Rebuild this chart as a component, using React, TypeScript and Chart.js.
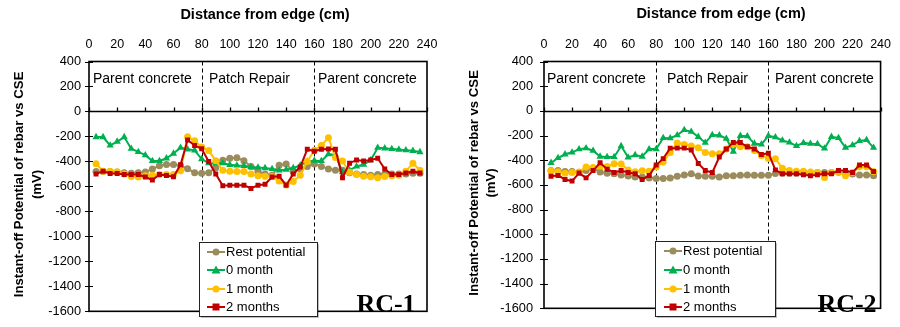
import React, { useEffect, useRef } from 'react';
import { Chart, registerables } from 'chart.js';
Chart.register(...registerables);

// ---------------- DATA ----------------
const distances = [5, 10, 15, 20, 25, 30, 35, 40, 45, 50, 55, 60, 65, 70, 75, 80, 85, 90, 95, 100, 105, 110, 115, 120, 125, 130, 135, 140, 145, 150, 155, 160, 165, 170, 175, 180, 185, 190, 195, 200, 205, 210, 215, 220, 225, 230, 235];

const restRC1 = [-480, -480, -480, -485, -490, -495, -490, -485, -460, -435, -425, -425, -435, -458, -490, -495, -490, -450, -390, -375, -370, -395, -440, -480, -500, -510, -430, -420, -480, -460, -440, -420, -440, -460, -470, -470, -490, -500, -505, -510, -505, -500, -500, -500, -500, -495, -495];
const zeroRC1 = [-205, -205, -272, -241, -205, -298, -324, -350, -396, -396, -375, -337, -290, -303, -311, -381, -414, -415, -414, -427, -432, -435, -445, -448, -453, -460, -471, -466, -453, -432, -401, -394, -396, -342, -350, -485, -470, -440, -425, -390, -290, -295, -300, -305, -310, -315, -325];
const oneRC1 = [-419, -478, -480, -485, -500, -520, -525, -515, -510, -505, -505, -505, -475, -202, -235, -284, -313, -395, -470, -478, -480, -480, -500, -515, -518, -520, -557, -588, -560, -510, -401, -311, -272, -210, -368, -396, -487, -505, -518, -523, -531, -520, -515, -510, -479, -414, -471];
const twoRC1 = [-500, -479, -497, -497, -505, -505, -505, -525, -549, -505, -513, -523, -427, -228, -272, -298, -401, -500, -595, -590, -590, -590, -616, -590, -583, -525, -518, -590, -500, -445, -303, -318, -303, -300, -303, -531, -414, -388, -396, -388, -375, -461, -505, -505, -492, -479, -492];

const restRC2 = [-484, -484, -491, -491, -499, -484, -465, -495, -505, -510, -520, -528, -536, -535, -543, -549, -549, -545, -530, -520, -510, -528, -530, -530, -535, -525, -525, -522, -520, -522, -522, -522, -508, -505, -505, -505, -505, -505, -500, -500, -500, -498, -505, -512, -520, -520, -525];
const zeroRC2 = [-421, -382, -352, -336, -310, -303, -323, -370, -374, -374, -285, -377, -358, -370, -310, -310, -220, -222, -197, -155, -168, -210, -258, -195, -198, -225, -330, -202, -205, -265, -272, -202, -214, -240, -255, -284, -259, -266, -268, -305, -210, -220, -298, -278, -243, -236, -298];
const oneRC2 = [-485, -493, -506, -500, -495, -454, -459, -449, -450, -428, -430, -480, -493, -485, -490, -454, -415, -337, -260, -273, -285, -298, -337, -348, -348, -309, -270, -290, -290, -322, -361, -387, -389, -465, -484, -490, -490, -495, -499, -540, -500, -495, -525, -500, -452, -452, -491];
const twoRC2 = [-530, -523, -556, -569, -504, -543, -484, -421, -473, -499, -484, -499, -510, -556, -523, -439, -387, -302, -302, -302, -317, -426, -484, -499, -374, -309, -257, -257, -291, -309, -354, -343, -478, -510, -510, -510, -517, -525, -517, -510, -510, -484, -484, -499, -439, -439, -491];

const seriesNames = ['Rest potential', '0 month', '1 month', '2 months'];
const seriesColors = ['#9A8C5C', '#00B050', '#FFC000', '#C00000'];
const seriesMarkers = ['circle', 'triangle', 'circle', 'rect'];

const xTickValues = [0, 20, 40, 60, 80, 100, 120, 140, 160, 180, 200, 220, 240];
const yTickValues = [400, 200, 0, -200, -400, -600, -800, -1000, -1200, -1400, -1600];
const regionLabels = ['Parent concrete', 'Patch Repair', 'Parent concrete'];
const regionBoundaries = [80, 160];
const xTitle = 'Distance from edge (cm)';
const yTitleLines = ['Instant-off Potential of rebar vs CSE', '(mV)'];

// ---------------- LAYOUT ----------------
type Layout = {
  caLeft: number; caRight: number; caTop: number; caBottom: number;
  regionX: number[]; regionY: number;
  legend: { x: number; y: number; w: number; h: number; sx0: number; sx1: number; tx: number; rows: number[] };
  rcX: number; rcY: number;
  xTitleX: number; xTitleY: number;
  yTitleX: number[]; yTickPad: number;
};

const W = 450, H = 327;

function drawMarker(ctx: CanvasRenderingContext2D, style: string, x: number, y: number, color: string) {
  ctx.fillStyle = color;
  ctx.beginPath();
  if (style === 'circle') {
    ctx.arc(x, y, 3.5, 0, Math.PI * 2);
  } else if (style === 'triangle') {
    ctx.moveTo(x, y - 4.5);
    ctx.lineTo(x + 4.5, y + 3.5);
    ctx.lineTo(x - 4.5, y + 3.5);
    ctx.closePath();
  } else {
    ctx.rect(x - 3.5, y - 3.5, 7, 7);
  }
  ctx.fill();
}

function Panel({ series, label, layout }: { series: number[][]; label: string; layout: Layout }) {
  const ref = useRef<HTMLCanvasElement | null>(null);
  useEffect(() => {
    const canvas = ref.current!;
    const L = layout;
    const overlay = {
      id: 'overlay',
      beforeDatasetsDraw(chart: any) {
        const { ctx, chartArea: ca, scales } = chart;
        const x = scales.x, y = scales.y;
        ctx.save();
        ctx.strokeStyle = '#000';
        ctx.lineWidth = 1;
        ctx.setLineDash([4, 3]);
        regionBoundaries.forEach((b) => {
          const px = Math.round(x.getPixelForValue(b)) + 0.5;
          ctx.beginPath();
          ctx.moveTo(px, ca.top);
          ctx.lineTo(px, ca.bottom);
          ctx.stroke();
        });
        ctx.setLineDash([]);
        const y0 = Math.round(y.getPixelForValue(0)) + 0.5;
        ctx.lineWidth = 1.3;
        ctx.beginPath();
        ctx.moveTo(ca.left, y0);
        ctx.lineTo(ca.right, y0);
        xTickValues.forEach((v) => {
          const px = Math.round(x.getPixelForValue(v)) + 0.5;
          ctx.moveTo(px, y0);
          ctx.lineTo(px, y0 - 4);
        });
        ctx.stroke();
        ctx.fillStyle = '#000';
        ctx.font = '14px "Liberation Sans", Arial, sans-serif';
        ctx.textBaseline = 'middle';
        ctx.textAlign = 'left';
        regionLabels.forEach((t, i) => ctx.fillText(t, L.regionX[i], L.regionY));
        ctx.restore();
      },
      afterDatasetsDraw(chart: any) {
        const { ctx, chartArea: ca, scales } = chart;
        const y = scales.y;
        ctx.save();
        ctx.strokeStyle = '#000';
        ctx.lineWidth = 1.6;
        ctx.strokeRect(ca.left, ca.top, ca.right - ca.left, ca.bottom - ca.top);
        ctx.lineWidth = 1.2;
        ctx.beginPath();
        yTickValues.forEach((v) => {
          const py = Math.round(y.getPixelForValue(v)) + 0.5;
          ctx.moveTo(ca.left - 4, py);
          ctx.lineTo(ca.left + 4, py);
        });
        ctx.stroke();
        const lg = L.legend;
        ctx.fillStyle = 'rgba(0,0,0,0.25)';
        ctx.fillRect(lg.x + 2, lg.y + 2, lg.w, lg.h);
        ctx.fillStyle = '#fff';
        ctx.fillRect(lg.x, lg.y, lg.w, lg.h);
        ctx.strokeStyle = '#222';
        ctx.lineWidth = 1;
        ctx.strokeRect(lg.x + 0.5, lg.y + 0.5, lg.w, lg.h);
        ctx.font = '13px "Liberation Sans", Arial, sans-serif';
        ctx.textBaseline = 'middle';
        ctx.textAlign = 'left';
        seriesNames.forEach((n, i) => {
          const ry = lg.rows[i];
          ctx.strokeStyle = seriesColors[i];
          ctx.lineWidth = 2;
          ctx.beginPath();
          ctx.moveTo(lg.sx0, ry);
          ctx.lineTo(lg.sx1, ry);
          ctx.stroke();
          drawMarker(ctx, seriesMarkers[i], (lg.sx0 + lg.sx1) / 2, ry, seriesColors[i]);
          ctx.fillStyle = '#000';
          ctx.fillText(n, lg.tx, ry + 0.5);
        });
        ctx.font = 'bold 26px "Liberation Serif", "Times New Roman", serif';
        ctx.textAlign = 'center';
        ctx.textBaseline = 'alphabetic';
        ctx.fillStyle = '#000';
        ctx.fillText(label, L.rcX, L.rcY);
        ctx.font = 'bold 14.5px "Liberation Sans", Arial, sans-serif';
        ctx.textBaseline = 'middle';
        ctx.fillText(xTitle, L.xTitleX, L.xTitleY);
        ctx.font = 'bold 13.2px "Liberation Sans", Arial, sans-serif';
        const cy = (ca.top + ca.bottom) / 2 - 2;
        yTitleLines.forEach((t, i) => {
          ctx.save();
          ctx.translate(L.yTitleX[i], cy);
          ctx.rotate(-Math.PI / 2);
          ctx.fillText(t, 0, 0);
          ctx.restore();
        });
        ctx.restore();
      },
    };

    const chart = new Chart(canvas, {
      type: 'line',
      data: {
        datasets: series.map((vals, i) => ({
          label: seriesNames[i],
          data: distances.map((d, k) => ({ x: d, y: vals[k] })),
          borderColor: seriesColors[i],
          backgroundColor: seriesColors[i],
          pointBackgroundColor: seriesColors[i],
          pointBorderColor: seriesColors[i],
          pointStyle: seriesMarkers[i] as any,
          pointRadius: seriesMarkers[i] === 'triangle' ? 4.2 : 3.5,
          pointBorderWidth: 0,
          borderWidth: 2,
          tension: 0,
          order: 3 - i,
        })),
      },
      options: {
        animation: false,
        responsive: false,
        events: [],
        layout: { padding: { left: 0, right: W - L.caRight, bottom: H - L.caBottom, top: 0 } },
        plugins: { legend: { display: false }, tooltip: { enabled: false } },
        scales: {
          x: {
            type: 'linear',
            position: 'top',
            min: 0,
            max: 240,
            grid: { display: false, drawTicks: false },
            border: { display: false },
            afterBuildTicks: (s: any) => { s.ticks = xTickValues.map((v) => ({ value: v })); },
            afterFit: (s: any) => { s.height = L.caTop; },
            ticks: {
              color: '#000',
              padding: 9,
              maxRotation: 0,
              autoSkip: false,
              callback: (v: any) => String(v),
              font: { family: '"Liberation Sans", Arial, sans-serif', size: 12.5 },
            },
          },
          y: {
            type: 'linear',
            min: -1600,
            max: 400,
            grid: { display: false, drawTicks: false },
            border: { display: false },
            afterBuildTicks: (s: any) => { s.ticks = yTickValues.map((v) => ({ value: v })); },
            afterFit: (s: any) => { s.width = L.caLeft; },
            ticks: {
              color: '#000',
              padding: L.yTickPad,
              autoSkip: false,
              callback: (v: any) => String(v),
              font: { family: '"Liberation Sans", Arial, sans-serif', size: 12.8 },
            },
          },
        },
      },
      plugins: [overlay],
    });
    return () => chart.destroy();
  }, []);
  return <canvas ref={ref} width={W} height={H} style={{ display: 'block', width: W, height: H }} />;
}

const layout1: Layout = {
  caLeft: 89, caRight: 427, caTop: 61.5, caBottom: 319,
  regionX: [93, 209, 318], regionY: 79,
  legend: { x: 199, y: 242, w: 118, h: 74, sx0: 207, sx1: 225, tx: 226, rows: [252, 270, 289, 307] },
  rcX: 386, rcY: 312,
  xTitleX: 265, xTitleY: 15,
  yTitleX: [19, 37], yTickPad: 8,
};
const layout2: Layout = {
  caLeft: 94, caRight: 434, caTop: 61.5, caBottom: 319,
  regionX: [97, 217, 325], regionY: 79,
  legend: { x: 205, y: 241, w: 120, h: 75, sx0: 214, sx1: 232, tx: 233, rows: [251, 270, 289, 307] },
  rcX: 397, rcY: 312,
  xTitleX: 271, xTitleY: 14,
  yTitleX: [24, 41], yTickPad: 11,
};

export default function App() {
  return (
    <div style={{ position: 'absolute', left: 0, top: 0, width: 900, height: 327, display: 'flex', background: '#fff' }}>
      <Panel series={[restRC1, zeroRC1, oneRC1, twoRC1]} label="RC-1" layout={layout1} />
      <Panel series={[restRC2, zeroRC2, oneRC2, twoRC2]} label="RC-2" layout={layout2} />
    </div>
  );
}
